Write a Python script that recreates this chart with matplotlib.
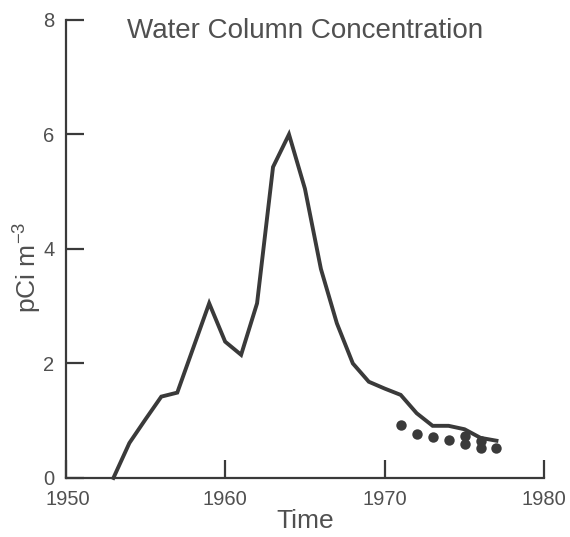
import matplotlib
matplotlib.use("Agg")
import matplotlib.pyplot as plt
import matplotlib.transforms as mtransforms

# Data
line_years = [1953, 1954, 1955, 1956, 1957, 1958, 1959, 1960, 1961, 1962, 1963,
              1964, 1965, 1966, 1967, 1968, 1969, 1970, 1971, 1972, 1973, 1974,
              1975, 1976, 1977]
line_conc = [0.0, 0.61, 1.02, 1.42, 1.49, 2.27, 3.05, 2.38, 2.15, 3.05, 5.43,
             6.0, 5.05, 3.65, 2.70, 2.0, 1.68, 1.56, 1.45, 1.13, 0.91, 0.91,
             0.85, 0.70, 0.65]

dot_years = [1971, 1972, 1973, 1974, 1975, 1975, 1976, 1976, 1977]
dot_conc = [0.92, 0.77, 0.72, 0.67, 0.73, 0.60, 0.65, 0.53, 0.52]

x_ticks = [1950, 1960, 1970, 1980]
y_ticks = [0, 2, 4, 6, 8]

title = "Water Column Concentration"
xlabel = "Time"
ylabel = "pCi m$^{-3}$"

plt.rcParams['font.family'] = ['Liberation Sans', 'DejaVu Sans']
plt.rcParams['mathtext.fontset'] = 'custom'
plt.rcParams['mathtext.rm'] = 'Liberation Sans'
plt.rcParams['mathtext.it'] = 'Liberation Sans'

ink = '#3a3a3a'
txt = '#505050'

fig = plt.figure(figsize=(5.70, 5.37), dpi=100)
ax = fig.add_axes([0.115, 0.110, 0.840, 0.853])

ax.plot(line_years, line_conc, color=ink, lw=2.8, solid_joinstyle='miter',
        clip_on=False)
ax.plot(dot_years, dot_conc, 'o', color=ink, ms=7.5, mec='none', clip_on=False)

ax.set_xlim(1950, 1980)
ax.set_ylim(0, 8)
ax.set_xticks(x_ticks)
ax.set_yticks(y_ticks)

for s in ['top', 'right']:
    ax.spines[s].set_visible(False)
for s in ['left', 'bottom']:
    ax.spines[s].set_color(ink)
    ax.spines[s].set_linewidth(1.6)

ax.tick_params(direction='in', length=13, width=1.6, color=ink,
               labelsize=14.5, labelcolor=txt)
ax.tick_params(axis='x', pad=9)
ax.tick_params(axis='y', pad=8)

# first x tick label sits under the "0", as in the reference
xl = ax.get_xticklabels()[0]
xl.set_horizontalalignment('left')
xl.set_transform(xl.get_transform() +
                 mtransforms.ScaledTranslation(-0.2, 0, fig.dpi_scale_trans))

ax.set_xlabel(xlabel, fontsize=19, color=txt, labelpad=0)
ax.set_ylabel(ylabel, fontsize=19, color=txt)
ax.yaxis.set_label_coords(-0.045, 0.46)
ax.text(0.5, 0.961, title, transform=ax.transAxes, ha='center', va='baseline',
        fontsize=20, color=txt)

fig.savefig("out.png", dpi=100)
